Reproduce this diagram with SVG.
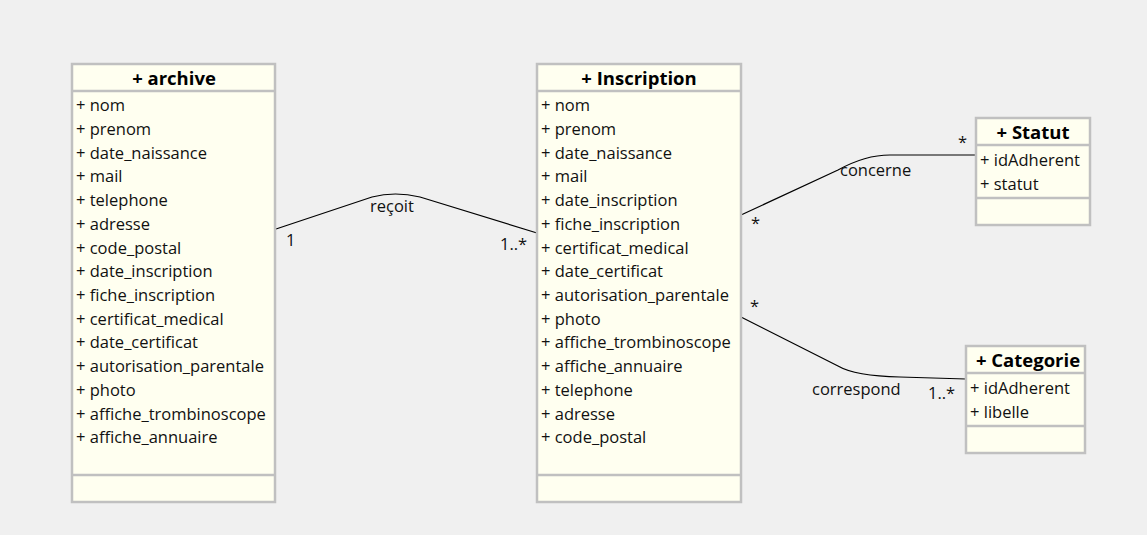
<svg xmlns="http://www.w3.org/2000/svg" width="1147" height="535" viewBox="0 0 1147 535">
<style>
.box{fill:#fffff0;stroke:#c0c0c0;stroke-width:2.5}
.sep{stroke:#c0c0c0;stroke-width:2.5}
.t{font-family:"Open Sans","Noto Sans","DejaVu Sans",sans-serif;font-size:16.5px;fill:#111}
.h{font-family:"Open Sans","Noto Sans","DejaVu Sans",sans-serif;font-size:18.5px;font-weight:bold;fill:#000;text-anchor:middle}
.c{fill:none;stroke:#000;stroke-width:1.2}
</style>
<rect width="1147" height="535" fill="#f0f0f0"/>
<g id="connectors">
<path class="c" d="M276,229 L372,197 Q395,191 420,197 L537,233"/>
<text class="t" x="370" y="212">reçoit</text>
<text class="t" x="286" y="246">1</text>
<text class="t" x="500" y="250">1..*</text>
<path class="c" d="M741,215 L838,170 Q865,155 890,155 L976,155"/>
<text class="t" x="840" y="176">concerne</text>
<text class="t" x="751" y="229">*</text>
<text class="t" x="958" y="148">*</text>
<path class="c" d="M741,317 L838,366 Q855,376 900,377 L966,379"/>
<text class="t" x="812" y="395">correspond</text>
<text class="t" x="750" y="312">*</text>
<text class="t" x="928" y="399">1..*</text>
</g>
<g id="archive">
<rect class="box" x="72" y="64" width="203" height="438"/>
<line class="sep" x1="72" y1="91" x2="275" y2="91"/>
<line class="sep" x1="72" y1="475" x2="275" y2="475"/>
<text class="h" x="174" y="85">+ archive</text>
<text class="t" x="76" y="111">+ nom</text>
<text class="t" x="76" y="135">+ prenom</text>
<text class="t" x="76" y="159">+ date_naissance</text>
<text class="t" x="76" y="182">+ mail</text>
<text class="t" x="76" y="206">+ telephone</text>
<text class="t" x="76" y="230">+ adresse</text>
<text class="t" x="76" y="254">+ code_postal</text>
<text class="t" x="76" y="277">+ date_inscription</text>
<text class="t" x="76" y="301">+ fiche_inscription</text>
<text class="t" x="76" y="325">+ certificat_medical</text>
<text class="t" x="76" y="348">+ date_certificat</text>
<text class="t" x="76" y="372">+ autorisation_parentale</text>
<text class="t" x="76" y="396">+ photo</text>
<text class="t" x="76" y="420">+ affiche_trombinoscope</text>
<text class="t" x="76" y="443">+ affiche_annuaire</text>
</g>
<g id="inscription">
<rect class="box" x="537" y="64" width="204" height="438"/>
<line class="sep" x1="537" y1="91" x2="741" y2="91"/>
<line class="sep" x1="537" y1="475" x2="741" y2="475"/>
<text class="h" x="639" y="85">+ Inscription</text>
<text class="t" x="541" y="111">+ nom</text>
<text class="t" x="541" y="135">+ prenom</text>
<text class="t" x="541" y="159">+ date_naissance</text>
<text class="t" x="541" y="182">+ mail</text>
<text class="t" x="541" y="206">+ date_inscription</text>
<text class="t" x="541" y="230">+ fiche_inscription</text>
<text class="t" x="541" y="254">+ certificat_medical</text>
<text class="t" x="541" y="277">+ date_certificat</text>
<text class="t" x="541" y="301">+ autorisation_parentale</text>
<text class="t" x="541" y="325">+ photo</text>
<text class="t" x="541" y="348">+ affiche_trombinoscope</text>
<text class="t" x="541" y="372">+ affiche_annuaire</text>
<text class="t" x="541" y="396">+ telephone</text>
<text class="t" x="541" y="420">+ adresse</text>
<text class="t" x="541" y="443">+ code_postal</text>
</g>
<g id="statut">
<rect class="box" x="976" y="118" width="114" height="107"/>
<line class="sep" x1="976" y1="145" x2="1090" y2="145"/>
<line class="sep" x1="976" y1="198" x2="1090" y2="198"/>
<text class="h" x="1033" y="139">+ Statut</text>
<text class="t" x="980" y="166">+ idAdherent</text>
<text class="t" x="980" y="190">+ statut</text>
</g>
<g id="categorie">
<rect class="box" x="966" y="346" width="119" height="107"/>
<line class="sep" x1="966" y1="373" x2="1085" y2="373"/>
<line class="sep" x1="966" y1="426" x2="1085" y2="426"/>
<text class="h" x="1028" y="367">+ Categorie</text>
<text class="t" x="970" y="394">+ idAdherent</text>
<text class="t" x="970" y="418">+ libelle</text>
</g>
</svg>
